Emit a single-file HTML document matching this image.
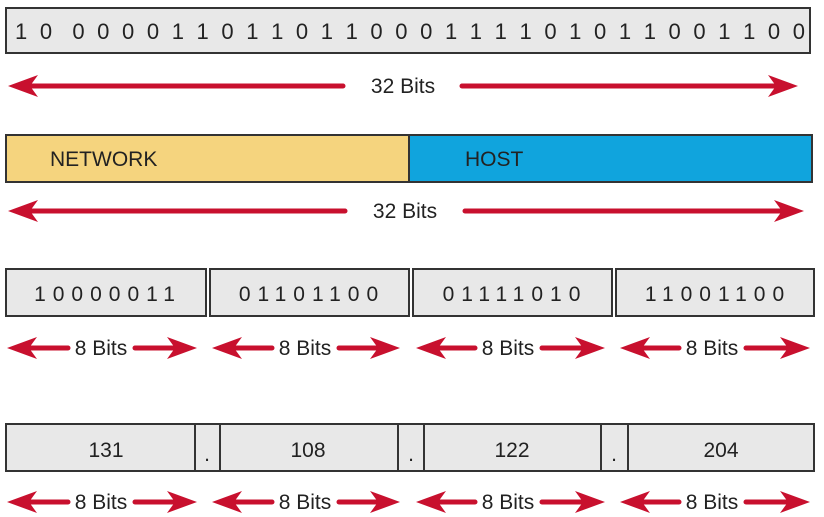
<!DOCTYPE html>
<html><head><meta charset="utf-8"><style>html,body{margin:0;padding:0;background:#fff}svg{display:block}</style></head>
<body>
<svg width="824" height="517" viewBox="0 0 824 517" xmlns="http://www.w3.org/2000/svg" font-family="Liberation Sans, sans-serif" fill="#222">
<defs>
<g id="lh"><path d="M0 0 L30 -11 L22 0 L30 11 Z" fill="#c8102e"/></g>
<g id="rh"><path d="M0 0 L-30 -11 L-22 0 L-30 11 Z" fill="#c8102e"/></g>
</defs>
<g stroke="#333" stroke-width="2">
<rect x="6" y="8" width="804" height="45" fill="#e8e8e8"/>
<rect x="6" y="135" width="403" height="47" fill="#f5d47e"/>
<rect x="409" y="135" width="403" height="47" fill="#10a4dd"/>
<rect x="6" y="269" width="200" height="47" fill="#e8e8e8"/>
<rect x="210" y="269" width="199" height="47" fill="#e8e8e8"/>
<rect x="413" y="269" width="199" height="47" fill="#e8e8e8"/>
<rect x="616" y="269" width="198" height="47" fill="#e8e8e8"/>
<rect x="6" y="424" width="808" height="47" fill="#e8e8e8"/>
<line x1="195" y1="424" x2="195" y2="471"/><line x1="220" y1="424" x2="220" y2="471"/>
<line x1="398" y1="424" x2="398" y2="471"/><line x1="424" y1="424" x2="424" y2="471"/>
<line x1="601" y1="424" x2="601" y2="471"/><line x1="628" y1="424" x2="628" y2="471"/>
</g>
<g font-size="21">
<text x="15" y="39" xml:space="preserve" textLength="790" lengthAdjust="spacing" font-size="22">1 0 &#8201;0 0 0 0 1 1 0 1 1 0 1 1 0 0 0 1 1 1 1 0 1 0 1 1 0 0 1 1 0 0</text>
<text x="50" y="166">NETWORK</text>
<text x="465" y="166">HOST</text>
<g text-anchor="middle">
<text x="403" y="93">32 Bits</text>
<text x="405" y="218">32 Bits</text>
<text x="108" y="301" letter-spacing="7">10000011</text>
<text x="312" y="301" letter-spacing="7">01101100</text>
<text x="515" y="301" letter-spacing="7">01111010</text>
<text x="718" y="301" letter-spacing="7">11001100</text>
<text x="106" y="457">131</text><text x="207" y="461">.</text>
<text x="308" y="457">108</text><text x="411" y="461">.</text>
<text x="512" y="457">122</text><text x="614" y="461">.</text>
<text x="721" y="457">204</text>
<text x="101" y="355">8 Bits</text><text x="305" y="355">8 Bits</text><text x="508" y="355">8 Bits</text><text x="712" y="355">8 Bits</text>
<text x="101" y="509">8 Bits</text><text x="305" y="509">8 Bits</text><text x="508" y="509">8 Bits</text><text x="712" y="509">8 Bits</text>
</g>
</g>
<g stroke="#c8102e" stroke-width="5" stroke-linecap="round">
<line x1="28" y1="86" x2="343" y2="86"/><line x1="462" y1="86" x2="778" y2="86"/>
<line x1="28" y1="211" x2="345" y2="211"/><line x1="465" y1="211" x2="784" y2="211"/>
<line x1="27" y1="348" x2="68" y2="348"/><line x1="135" y1="348" x2="177" y2="348"/>
<line x1="232" y1="348" x2="272" y2="348"/><line x1="339" y1="348" x2="380" y2="348"/>
<line x1="436" y1="348" x2="475" y2="348"/><line x1="542" y1="348" x2="585" y2="348"/>
<line x1="640" y1="348" x2="679" y2="348"/><line x1="746" y1="348" x2="790" y2="348"/>
<line x1="27" y1="502" x2="68" y2="502"/><line x1="135" y1="502" x2="177" y2="502"/>
<line x1="232" y1="502" x2="272" y2="502"/><line x1="339" y1="502" x2="380" y2="502"/>
<line x1="436" y1="502" x2="475" y2="502"/><line x1="542" y1="502" x2="585" y2="502"/>
<line x1="640" y1="502" x2="679" y2="502"/><line x1="746" y1="502" x2="790" y2="502"/>
</g>
<use href="#lh" x="8" y="86"/><use href="#rh" x="798" y="86"/>
<use href="#lh" x="8" y="211"/><use href="#rh" x="804" y="211"/>
<use href="#lh" x="7" y="348"/><use href="#rh" x="197" y="348"/>
<use href="#lh" x="212" y="348"/><use href="#rh" x="400" y="348"/>
<use href="#lh" x="416" y="348"/><use href="#rh" x="605" y="348"/>
<use href="#lh" x="620" y="348"/><use href="#rh" x="810" y="348"/>
<use href="#lh" x="7" y="502"/><use href="#rh" x="197" y="502"/>
<use href="#lh" x="212" y="502"/><use href="#rh" x="400" y="502"/>
<use href="#lh" x="416" y="502"/><use href="#rh" x="605" y="502"/>
<use href="#lh" x="620" y="502"/><use href="#rh" x="810" y="502"/>
</svg>
</body></html>
